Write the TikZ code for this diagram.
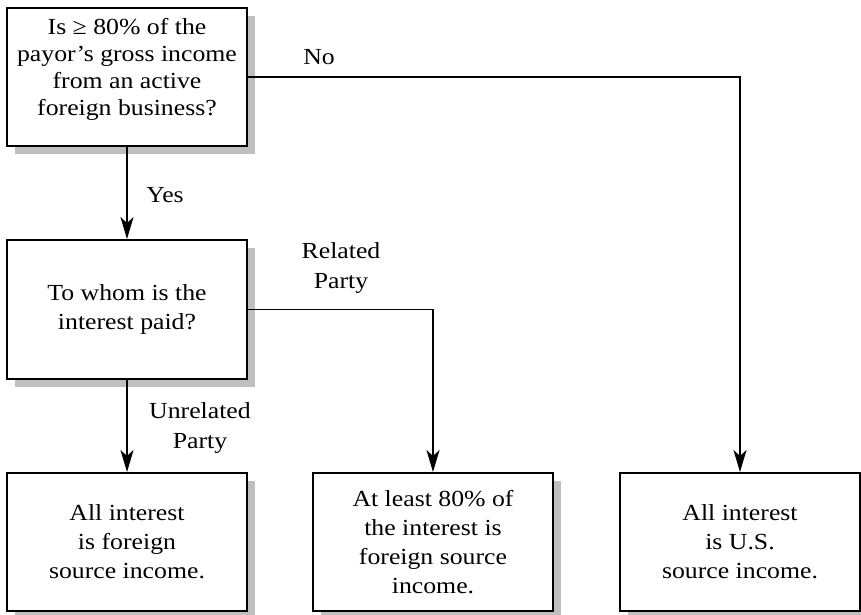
\documentclass[tikz,border=0pt]{standalone}
\usepackage{fontspec}
\setmainfont{Liberation Serif}
\newfontfamily\boxfont[FakeStretch=1.12]{Liberation Serif}
\usetikzlibrary{arrows.meta,shadows}
\begin{document}
\begin{tikzpicture}[x=1pt,y=1pt,
  box/.style={draw=black, line width=1.9pt, fill=white, align=center,
    minimum width=240pt, minimum height=138pt, inner sep=0pt,
    font=\boxfont\fontsize{23}{29}\selectfont,
    drop shadow={shadow xshift=8pt, shadow yshift=-8pt, fill=black!25, opacity=1}},
  link/.style={line width=1.9pt, -{Stealth[length=22pt,width=13pt,inset=6pt]}},
  lbl/.style={align=center, inner sep=0pt, font=\boxfont\fontsize{23}{29.5}\selectfont}]
\useasboundingbox (0,0) rectangle (861,-615);

% decision boxes
\node[box, font=\boxfont\fontsize{23}{27}\selectfont] (q1) at (127,-77)
  {Is ≥ 80\% of the\\payor’s gross income\\from an active\\foreign business?\vphantom{g}\\[-6pt]};
\node[box, minimum height=139pt] (q2) at (127,-309.5) {To whom is the\\interest paid?};

% outcome boxes
\node[box] (ra) at (127,-542) {All interest\\is foreign\\source income.};
\node[box] (rb) at (433,-542) {At least 80\% of\\the interest is\\foreign source\\income.};
\node[box] (rc) at (740,-542) {All interest\\is U.S.\\source income.};

% connectors
\draw[link] (q1.south) -- (q2.north);
\draw[link] (q1.east) -| (rc.north);
\draw[link] (q2.east) -| (rb.north);
\draw[link] (q2.south) -- (ra.north);

% branch labels
\node[lbl] (yes) at (165,-195) {Yes};
\node[lbl] (no) at (319,-57) {No};
\node[lbl] (rel) at (341,-268) {Related\\Party};
\node[lbl] (unrel) at (200,-428) {Unrelated\\Party};
\end{tikzpicture}
\end{document}
